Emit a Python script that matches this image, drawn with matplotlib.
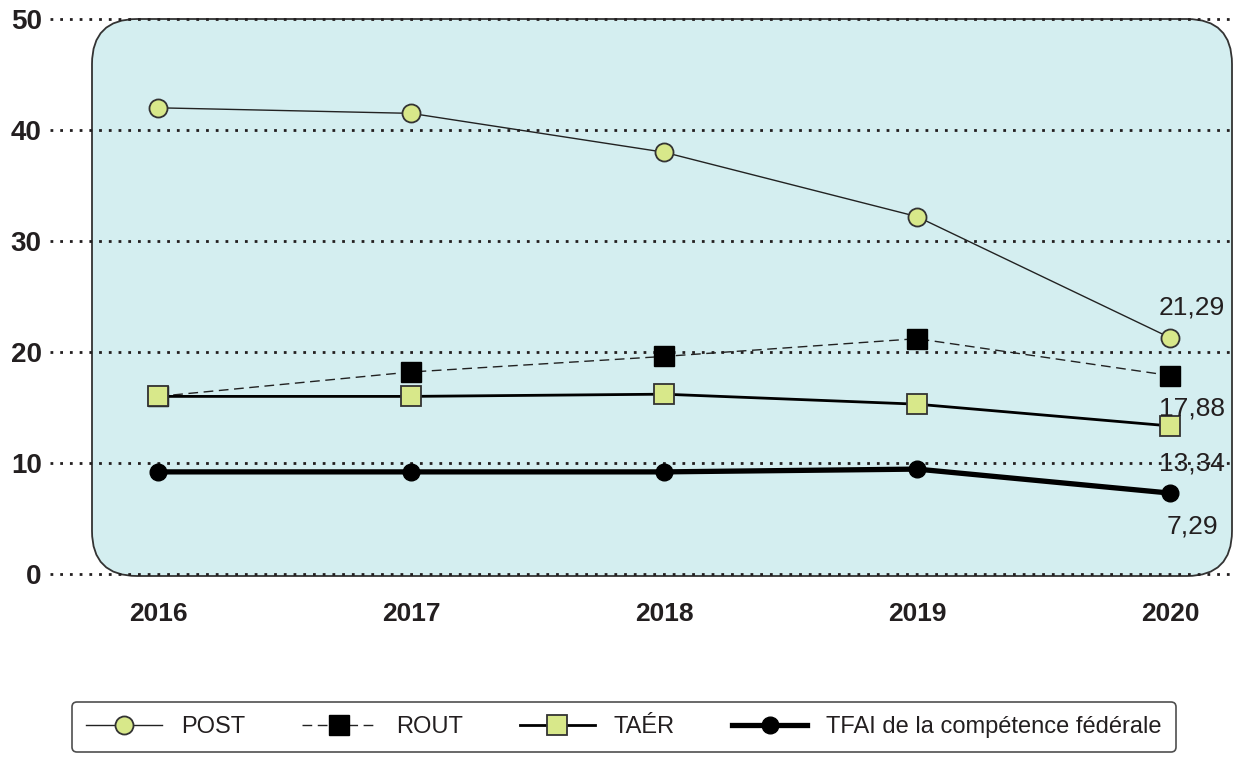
import matplotlib
matplotlib.use('Agg')
import matplotlib.pyplot as plt
from matplotlib.patches import FancyBboxPatch

plt.rcParams['font.family'] = ['Liberation Sans', 'DejaVu Sans']

years = [2016, 2017, 2018, 2019, 2020]
post = [42.0, 41.5, 38.0, 32.2, 21.29]
rout = [16.0, 18.2, 19.6, 21.2, 17.88]
taer = [16.0, 16.0, 16.2, 15.3, 13.34]
tfai = [9.2, 9.2, 9.2, 9.45, 7.29]
y_ticks = [0, 10, 20, 30, 40, 50]

TXT = '#231f20'
GREEN = '#d8e88a'
BOX = '#d4eef0'

W, H = 1236, 759
fig = plt.figure(figsize=(W / 100, H / 100), dpi=100)

# axes placed so the years fall where they do in the picture
ax = fig.add_axes([50 / W, (H - 574) / H, (1236 - 50) / W, (574 - 19) / H])
ax.set_xlim(2016 - 108 / 253, 2020 + 66 / 253)
ax.set_ylim(0, 50)
ax.patch.set_visible(False)
for s in ax.spines.values():
    s.set_visible(False)

# rounded background box (in inches so the corners stay round)
box = FancyBboxPatch((0.92, (H - 576) / 100), 11.40, 5.57,
                     boxstyle='round,pad=0,rounding_size=0.45',
                     transform=fig.dpi_scale_trans, facecolor=BOX,
                     edgecolor='#333333', linewidth=1.3, zorder=0,
                     clip_on=False)
ax.add_patch(box)

for v in y_ticks:
    ax.axhline(v, color=TXT, linestyle=(0, (1, 2.5)), linewidth=2.0,
               zorder=1, clip_on=False)

ax.plot(years, post, color='#222222', lw=1.0, marker='o', ms=13,
        mfc=GREEN, mec='#333333', mew=1.3, zorder=3, label='POST')
ax.plot(years, rout, color='#222222', lw=1.0, ls=(0, (7, 4)), marker='s',
        ms=15, mfc='black', mec='black', zorder=3, label='ROUT')
ax.plot(years, taer, color='black', lw=2.0, marker='s', ms=15,
        mfc=GREEN, mec='#333333', mew=1.3, zorder=3, label='TAÉR')
ax.plot(years, tfai, color='black', lw=3.8, marker='o', ms=12,
        mfc='black', mec='black', zorder=4,
        label='TFAI de la compétence fédérale')

# value labels for 2020
labels = [(post[-1], 22), (rout[-1], -24), (taer[-1], -27), (tfai[-1], -24)]
for val, dy in labels:
    ax.annotate(f'{val:.2f}'.replace('.', ','), (years[-1], val),
                xytext=(16, dy), textcoords='offset points',
                ha='center', va='center', fontsize=19, color=TXT, zorder=5)

ax.set_xticks(years)
ax.set_xticklabels([str(y) for y in years], fontsize=19, fontweight='bold',
                   color=TXT)
ax.set_yticks(y_ticks)
ax.set_yticklabels([str(v) for v in y_ticks], fontsize=20, fontweight='bold',
                   color=TXT)
ax.tick_params(axis='both', length=0)
ax.tick_params(axis='x', pad=20)
ax.tick_params(axis='y', pad=6)

handles, names = ax.get_legend_handles_labels()
leg = fig.legend(handles, names, loc='center', ncol=4,
                 bbox_to_anchor=(624 / W, 32 / H), frameon=True,
                 fancybox=True, edgecolor='#222222', facecolor='white',
                 fontsize=17, handlelength=3.2, columnspacing=2.4,
                 borderpad=0.6, labelcolor=TXT)
leg.get_frame().set_linewidth(1.2)

fig.savefig('out.png', dpi=100)
